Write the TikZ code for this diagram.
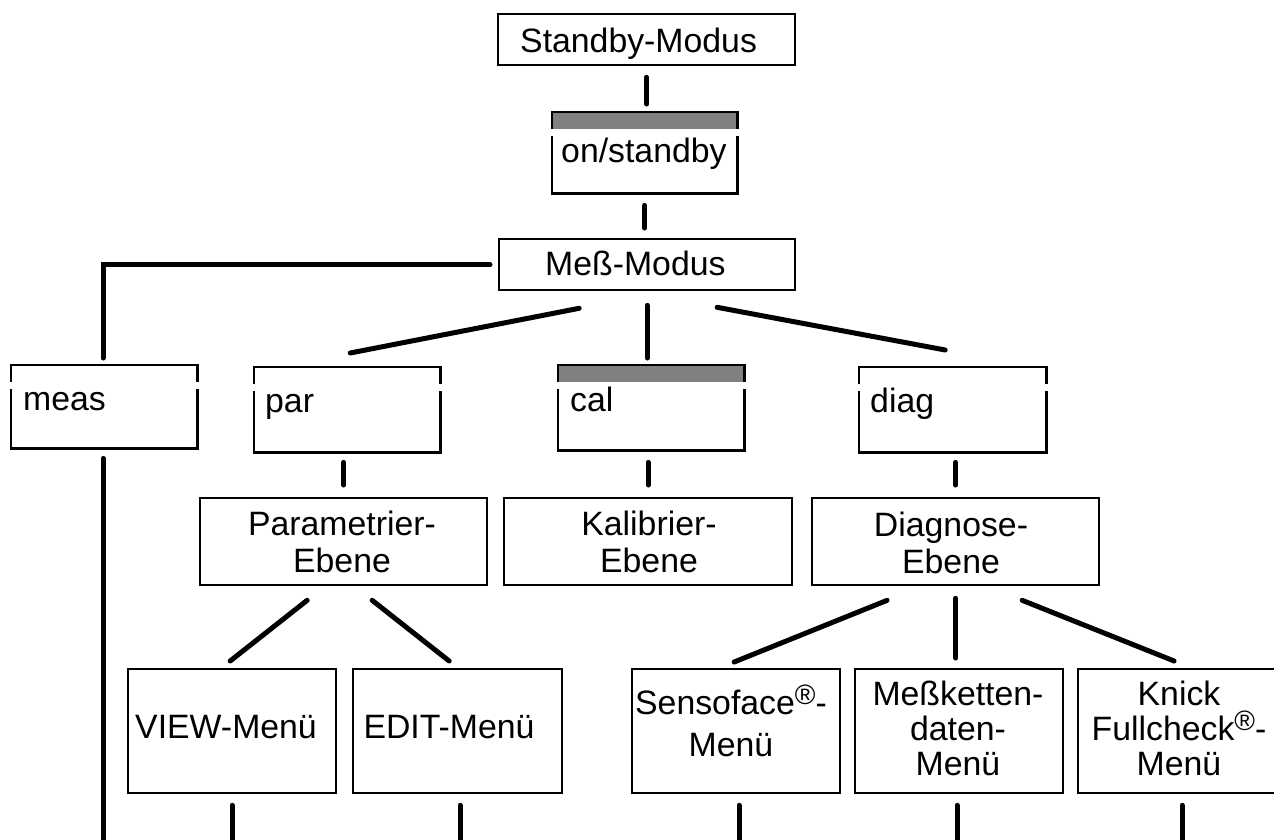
\documentclass[tikz,border=0pt]{standalone}
\usepackage{fontspec}
\setmainfont{Liberation Sans}
\usetikzlibrary{calc}
\definecolor{keygray}{HTML}{808080}
\tikzset{
  frame/.style={draw, line width=2.3pt, inner sep=0pt, anchor=north west},
  keyarea/.style={inner sep=0pt, anchor=north west},
  conn/.style={line width=5pt, line cap=round},
  lbl/.style={inner sep=0pt, font=\fontsize{33.8}{37}\selectfont, anchor=base},
  lblw/.style={lbl, anchor=base west},
  mlbl/.style={lbl, align=center},
  mlblc/.style={inner sep=0pt, font=\fontsize{33.8}{35}\selectfont, anchor=base, align=center},
  mlbls/.style={inner sep=0pt, font=\fontsize{33.8}{42}\selectfont, anchor=base, align=center}
}
\newcommand{\regmark}{\raisebox{10pt}{\fontsize{28}{28}\selectfont ®}}
\newcommand{\kbox}[2]{%
  \fill[#2] (#1.north west) rectangle ([yshift=-17pt]#1.north east);
  \draw[line width=2.3pt] ([yshift=-17pt]#1.north west) -- (#1.north west) -- (#1.north east) -- ([yshift=-17pt]#1.north east);
  \draw[line width=2.3pt] ([yshift=-24pt]#1.north west) -- (#1.south west) -- (#1.south east) -- ([yshift=-24pt]#1.north east);
}
\begin{document}
\begin{tikzpicture}[x=1pt,y=-1pt]
\path[use as bounding box] (0,0) rectangle (1274,839);
\clip (0,0) rectangle (1274,839);

% plain boxes
\node[frame, minimum width=297pt, minimum height=51pt] (standby) at (497,13) {};
\node[frame, minimum width=296pt, minimum height=51pt] (mess) at (498,238) {};
\node[frame, minimum width=287pt, minimum height=87pt] (param) at (199,497) {};
\node[frame, minimum width=288pt, minimum height=87pt] (kalib) at (503,497) {};
\node[frame, minimum width=287pt, minimum height=87pt] (diagE) at (811,497) {};
\node[frame, minimum width=208pt, minimum height=124pt] (view) at (127,668) {};
\node[frame, minimum width=209pt, minimum height=124pt] (edit) at (352,668) {};
\node[frame, minimum width=208pt, minimum height=124pt] (sens) at (631,668) {};
\node[frame, minimum width=208pt, minimum height=124pt] (messk) at (854,668) {};
\node[frame, minimum width=208pt, minimum height=124pt] (knick) at (1077,668) {};

% key boxes
\node[keyarea, minimum width=185pt, minimum height=81pt] (onstb) at (552,112) {};
\node[keyarea, minimum width=186pt, minimum height=83pt] (meas) at (11,365) {};
\node[keyarea, minimum width=186pt, minimum height=85pt] (par) at (254,367) {};
\node[keyarea, minimum width=186pt, minimum height=85pt] (cal) at (558,365) {};
\node[keyarea, minimum width=187pt, minimum height=85pt] (diag) at (859,367) {};
\kbox{onstb}{keygray}
\kbox{meas}{white}
\kbox{par}{white}
\kbox{cal}{keygray}
\kbox{diag}{white}

% labels
\node[lblw] (tstandby) at (520,52) {Standby-Modus};
\node[lblw] (tmess) at (545,275) {Meß-Modus};
\node[lblw] (tonstb) at (561,162) {on/standby};
\node[lblw] (tmeas) at (23,410) {meas};
\node[lblw] (tpar) at (265,412) {par};
\node[lblw] (tcal) at (570,411) {cal};
\node[lblw] (tdiag) at (870,412) {diag};
\node[mlbl] (tparam) at (342,572) {Parametrier-\\Ebene};
\node[mlbl] (tkalib) at (649,572) {Kalibrier-\\Ebene};
\node[mlbl] (tdiagE) at (951,573) {Diagnose-\\Ebene};
\node[lbl] (tview) at (226,738) {VIEW-Menü};
\node[lbl] (tedit) at (449,738) {EDIT-Menü};
\node[mlbls] (tsens) at (731,756) {Sensoface\regmark-\\Menü};
\node[mlblc] (tmessk) at (958,775) {Meßketten-\\daten-\\Menü};
\node[mlblc] (tknick) at (1179,775) {Knick\\Fullcheck\regmark-\\Menü};

% free ends at the bottom edge
\coordinate (measend) at (103,850);
\coordinate (viewend) at (232,850);
\coordinate (editend) at (460,850);
\coordinate (sensend) at (739,850);
\coordinate (messkend) at (957,850);
\coordinate (knickend) at (1182,850);

% connectors
\draw[conn, shorten <=11pt, shorten >=8pt] (standby.south) -- (standby.south |- onstb.north);
\draw[conn, shorten <=12pt, shorten >=10pt] (onstb.south) -- (onstb.south |- mess.north);
\draw[conn, shorten <=8pt, shorten >=7pt] (mess.west) -| (measend |- meas.north);
\draw[conn] ([shift={(-68,17)}]mess.south) -- ([shift={(3,-14)}]par.north);
\draw[conn, shorten <=14pt, shorten >=7pt] (mess.south) -- (mess.south |- cal.north);
\draw[conn] ([shift={(70,16)}]mess.south) -- ([shift={(-7.5,-17)}]diag.north);
\draw[conn, shorten <=10pt] (measend |- meas.south) -- (measend);
\draw[conn, shorten <=10pt, shorten >=12pt] (param.north |- par.south) -- (param.north);
\draw[conn, shorten <=12pt, shorten >=12pt] (kalib.north |- cal.south) -- (kalib.north);
\draw[conn, shorten <=10pt, shorten >=12pt] (diagE.north |- diag.south) -- (diagE.north);
\draw[conn] ([shift={(-36.5,14)}]param.south) -- ([shift={(-2,-7)}]view.north);
\draw[conn] ([shift={(28.5,14)}]param.south) -- ([shift={(-8.5,-7)}]edit.north);
\draw[conn] ([shift={(-68.5,14)}]diagE.south) -- ([shift={(-2,-6)}]sens.north);
\draw[conn, shorten <=12pt, shorten >=10pt] (diagE.south) -- (diagE.south |- messk.north);
\draw[conn] ([shift={(66.5,14)}]diagE.south) -- ([shift={(-8,-7)}]knick.north);
\draw[conn, shorten <=11pt] (viewend |- view.south) -- (viewend);
\draw[conn, shorten <=11pt] (editend |- edit.south) -- (editend);
\draw[conn, shorten <=11pt] (sensend |- sens.south) -- (sensend);
\draw[conn, shorten <=11pt] (messkend |- messk.south) -- (messkend);
\draw[conn, shorten <=11pt] (knickend |- knick.south) -- (knickend);
\end{tikzpicture}
\end{document}
